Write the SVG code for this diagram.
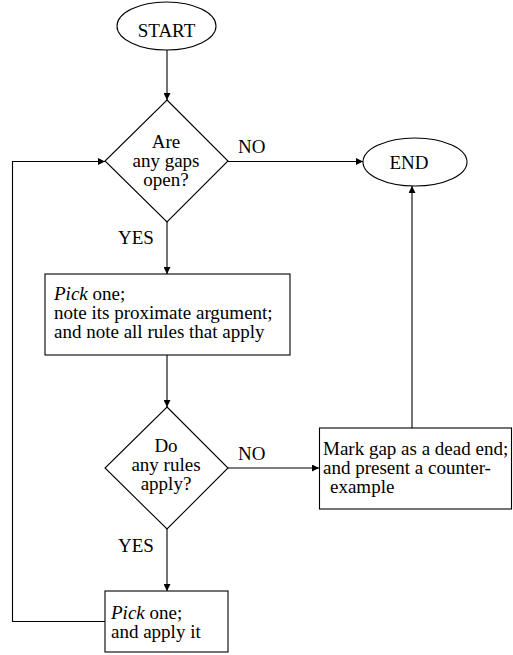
<svg xmlns="http://www.w3.org/2000/svg" width="513" height="655" viewBox="0 0 513 655">
<style>
.s{fill:#fff;stroke:#000;stroke-width:1.1}
.t{font-family:"Liberation Serif","Times New Roman",serif;font-size:19px;fill:#000}
.c{stroke:#000;stroke-width:1.1;fill:none}
.i{font-style:italic}
</style>
<defs>
<marker id="ah" viewBox="0 0 10 10" refX="10" refY="5" markerWidth="8" markerHeight="7" markerUnits="userSpaceOnUse" orient="auto">
<path d="M0,0 L10,5 L0,10 z" fill="#000"/>
</marker>
</defs>
<rect width="513" height="655" fill="#fff"/>
<g id="connectors">
<line class="c" x1="167" y1="50" x2="167" y2="100" marker-end="url(#ah)"/>
<line class="c" x1="228" y1="161.5" x2="363" y2="161.5" marker-end="url(#ah)"/>
<line class="c" x1="167" y1="222" x2="167" y2="274" marker-end="url(#ah)"/>
<line class="c" x1="167" y1="355" x2="167" y2="407" marker-end="url(#ah)"/>
<line class="c" x1="228" y1="468" x2="319" y2="468" marker-end="url(#ah)"/>
<line class="c" x1="167" y1="529" x2="167" y2="591" marker-end="url(#ah)"/>
<line class="c" x1="412" y1="428" x2="412" y2="186" marker-end="url(#ah)"/>
<polyline class="c" points="105,621.5 12.5,621.5 12.5,161.5 105,161.5" marker-end="url(#ah)"/>
<text class="t" x="238" y="153">NO</text>
<text class="t" x="118" y="244">YES</text>
<text class="t" x="238" y="460">NO</text>
<text class="t" x="118" y="552">YES</text>
</g>
<g id="start">
<ellipse class="s" cx="166.5" cy="26" rx="49.5" ry="24"/>
<text class="t" x="166.5" y="37" text-anchor="middle">START</text>
</g>
<g id="gaps">
<polygon class="s" points="167,100 228,161 167,222 105,161"/>
<text class="t" x="166" y="148" text-anchor="middle">Are</text>
<text class="t" x="166" y="167" text-anchor="middle">any gaps</text>
<text class="t" x="166" y="186" text-anchor="middle">open?</text>
</g>
<g id="end">
<ellipse class="s" cx="415" cy="162" rx="52" ry="24"/>
<text class="t" x="409" y="169" text-anchor="middle">END</text>
</g>
<g id="pick1">
<rect class="s" x="45" y="274" width="245" height="81"/>
<text class="t" x="54" y="300"><tspan class="i">Pick</tspan> one;</text>
<text class="t" x="54" y="319">note its proximate argument;</text>
<text class="t" x="54" y="338">and note all rules that apply</text>
</g>
<g id="rules">
<polygon class="s" points="167,407 228,468 167,529 105,468"/>
<text class="t" x="166" y="452" text-anchor="middle">Do</text>
<text class="t" x="166" y="471" text-anchor="middle">any rules</text>
<text class="t" x="166" y="490" text-anchor="middle">apply?</text>
</g>
<g id="deadend">
<rect class="s" x="319.5" y="428" width="192" height="81"/>
<text class="t" x="323" y="455">Mark gap as a dead end;</text>
<text class="t" x="323" y="474">and present a counter-</text>
<text class="t" x="330" y="493">example</text>
</g>
<g id="pick2">
<rect class="s" x="105" y="591" width="123" height="61"/>
<text class="t" x="111" y="619"><tspan class="i">Pick</tspan> one;</text>
<text class="t" x="111" y="638">and apply it</text>
</g>
</svg>
